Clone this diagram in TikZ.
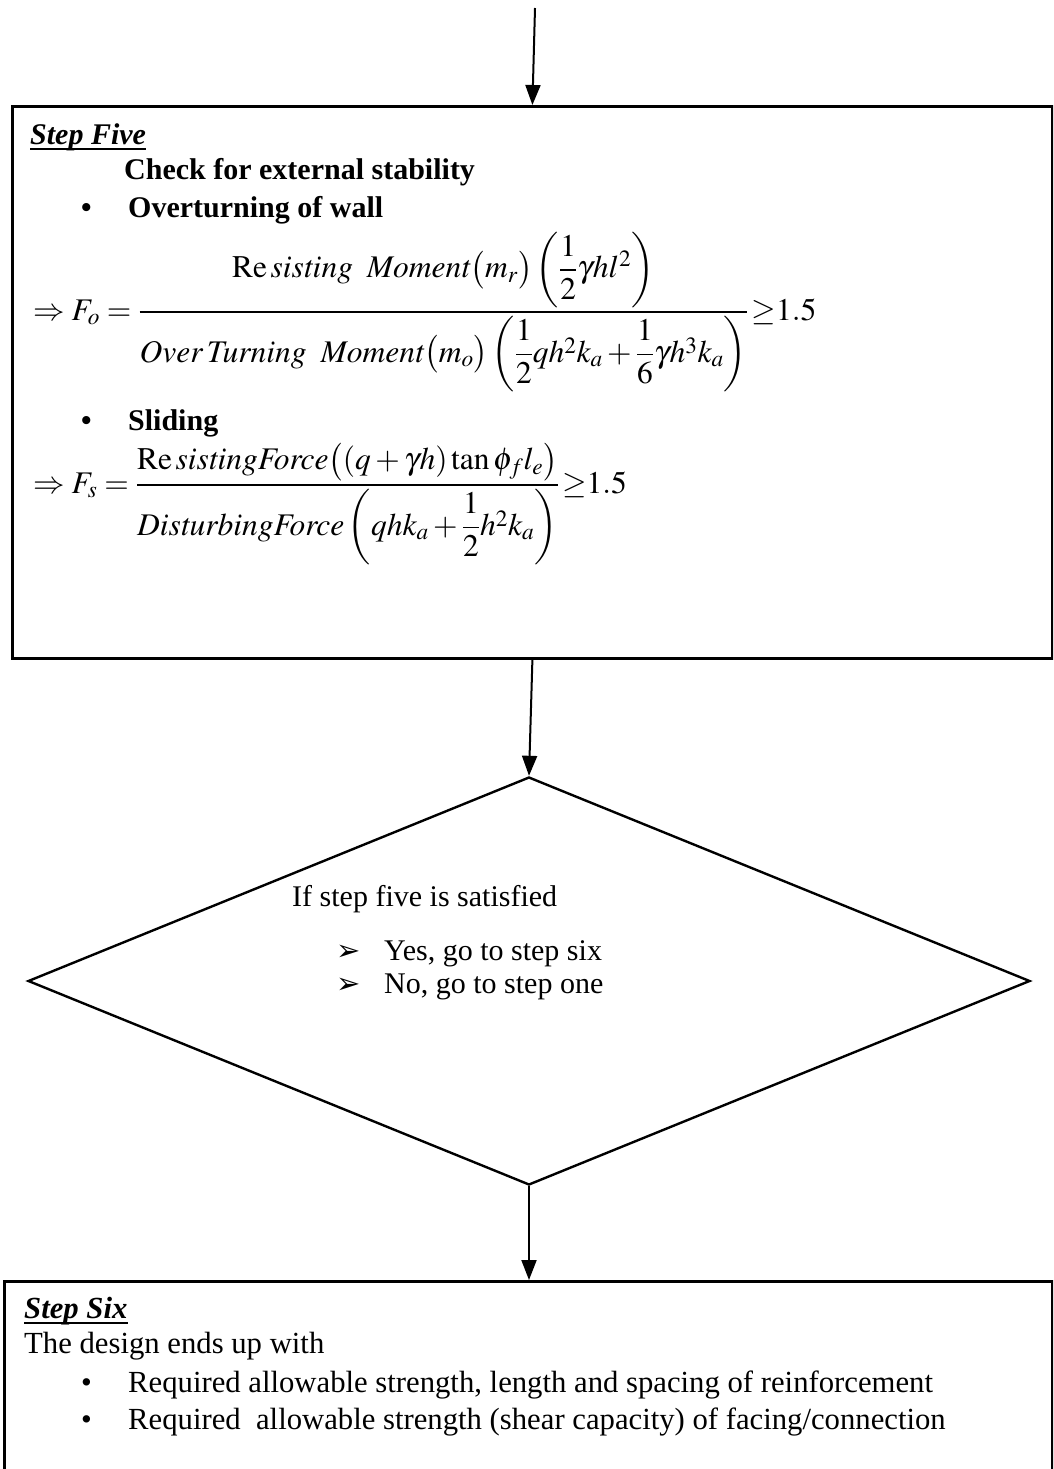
\documentclass[tikz,border=0pt]{standalone}
\usepackage{amsmath}
\usepackage{mathptmx}
\usepackage{fontspec}
\setmainfont{Liberation Serif}
\newfontfamily\dejavu{DejaVu Sans}
\usetikzlibrary{arrows.meta,shapes.geometric}
\begin{document}
\begin{tikzpicture}[x=1pt,y=-1pt,
  box/.style={draw, line width=2.8pt, inner sep=0pt},
  arr/.style={line width=2pt,-{Triangle[length=20pt,width=15pt]}},
  txt/.style={anchor=base west, inner sep=0pt, font=\fontsize{30}{34.5}\selectfont},
  btxt/.style={anchor=base west, inner sep=0pt, font=\fontsize{30.7}{35}\selectfont},
  frm/.style={anchor=base west, inner sep=0pt, font=\fontsize{31.5}{36}\selectfont},
  ulin/.style={line width=2.2pt},
  pointer/.style={anchor=base west, inner sep=0pt, font=\fontsize{29}{33}\selectfont\dejavu},
]
\useasboundingbox (0,0) rectangle (1053,1469);
\clip (0,0) rectangle (1053,1469);
% boxes
\node[box, anchor=north west, minimum width=1040pt, minimum height=552pt] (s5) at (11,105) {};
\node[draw, diamond, line width=2.4pt, minimum width=1002pt, minimum height=408pt, inner sep=0pt] (dec) at (529,981) {};
\node[box, anchor=north west, minimum width=1048pt, minimum height=260pt] (s6) at (3,1280) {};
% connectors
\coordinate (start) at (535,8);
\draw[arr] (start) -- (s5.north);
\draw[arr] (s5.south) -- (dec.north);
\draw[arr] (dec.south) -- (dec.south |- s6.north);
% step five
\node[txt] (t5) at (30,144) {\bfseries\itshape Step Five};
\draw[ulin] ([yshift=-5pt]t5.base west) -- ([yshift=-5pt]t5.base east);
\node[txt] (chk) at (124,179) {\bfseries Check for external stability};
\node[txt] (b1) at (81,217) {\bfseries\textbullet};
\node[txt] (ov) at (128,217) {\bfseries Overturning of wall};
\node[frm] (f1) at (33,320) {$\Rightarrow F_o=\dfrac{\mathrm{Re}\,\mathit{sisting}\;\;\mathit{Moment}\bigl(m_r\bigr)\left(\dfrac{1}{2}\gamma hl^2\right)}{\mathit{Over\,Turning}\;\;\mathit{Moment}\bigl(m_o\bigr)\left(\dfrac{1}{2}qh^2k_a+\dfrac{1}{6}\gamma h^3k_a\right)}\,{\geq}1.5$};
\node[txt] (b2) at (81,430) {\bfseries\textbullet};
\node[txt] (sl) at (128,430) {\bfseries Sliding};
\node[frm] (f2) at (33,493) {$\Rightarrow F_s=\dfrac{\mathrm{Re}\,\mathit{sistingForce}\bigl(\left(q+\gamma h\right)\tan\phi_f l_e\bigr)}{\mathit{DisturbingForce}\left(qhk_a+\dfrac{1}{2}h^2k_a\right)}\,{\geq}1.5$};
% decision
\node[txt] (q) at (292,906) {If step five is satisfied};
\node[pointer] (ya) at (336,960) {➢};
\node[txt] (y) at (384,960) {Yes, go to step six};
\node[pointer] (na) at (336,993) {➢};
\node[txt] (n) at (384,993) {No, go to step one};
% step six
\node[btxt] (t6) at (24,1318) {\bfseries\itshape Step Six};
\draw[ulin] ([yshift=-5pt]t6.base west) -- ([yshift=-5pt]t6.base east);
\node[btxt] (d1) at (24,1353) {The design ends up with};
\node[btxt] (bb1) at (81,1392) {\textbullet};
\node[btxt] (r1) at (128,1392) {Required allowable strength, length and spacing of reinforcement};
\node[btxt] (bb2) at (81,1429) {\textbullet};
\node[btxt] (r2) at (128,1429) {Required\ \ allowable strength (shear capacity) of facing/connection};
\end{tikzpicture}
\end{document}
